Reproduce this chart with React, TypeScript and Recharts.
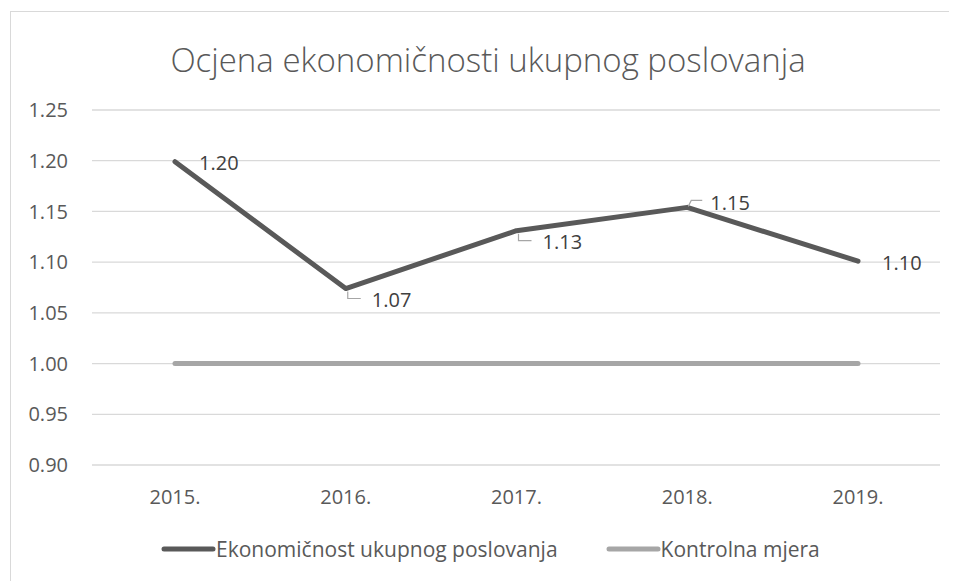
import React from 'react';
import { LineChart, Line, XAxis, YAxis, CartesianGrid, LabelList } from 'recharts';

const categories = ['2015.', '2016.', '2017.', '2018.', '2019.'];
const ekonomicnost = [1.199, 1.074, 1.131, 1.154, 1.101];
const kontrolna = [1.0, 1.0, 1.0, 1.0, 1.0];
const yTicks = [0.9, 0.95, 1.0, 1.05, 1.1, 1.15, 1.2, 1.25];

const title = 'Ocjena ekonomičnosti ukupnog poslovanja';
const seriesNames = ['Ekonomičnost ukupnog poslovanja', 'Kontrolna mjera'];
const seriesColors = ['#595959', '#a6a6a6'];

const data = categories.map((c, i) => ({
  year: c,
  eko: ekonomicnost[i],
  kon: kontrolna[i],
}));

const FONT = '"Open Sans", "Noto Sans", sans-serif';
const W = 949;
const H = 573;

const DataLabel = (props: any) => {
  const { x, y, value, index } = props;
  const n = ekonomicnost.length;
  const text = Number(value).toFixed(2);
  let place = 'right';
  if (index > 0 && index < n - 1) {
    const prev = ekonomicnost[index - 1];
    const next = ekonomicnost[index + 1];
    place = value > prev && value > next ? 'above' : 'below';
  }
  const style = { fontFamily: FONT, fontSize: 20, fill: '#404040' };
  if (place === 'right') {
    return (
      <text x={x + 24} y={y + 1} dominantBaseline="central" style={style}>
        {text}
      </text>
    );
  }
  if (place === 'below') {
    return (
      <g>
        <polyline
          points={`${x + 2},${y + 3} ${x + 2},${y + 10} ${x + 15},${y + 10}`}
          fill="none"
          stroke="#a6a6a6"
          strokeWidth={1.2}
        />
        <text x={x + 26} y={y + 11} dominantBaseline="central" style={style}>
          {text}
        </text>
      </g>
    );
  }
  return (
    <g>
      <polyline
        points={`${x + 1},${y - 1} ${x + 4},${y - 7} ${x + 15},${y - 7}`}
        fill="none"
        stroke="#a6a6a6"
        strokeWidth={1.2}
      />
      <text x={x + 23} y={y - 5} dominantBaseline="central" style={style}>
        {text}
      </text>
    </g>
  );
};

export default function App() {
  return (
    <div style={{ position: 'relative', width: W, height: H, overflow: 'hidden', background: '#fff' }}>
      <div
        style={{
          position: 'absolute',
          left: 2,
          top: 3,
          width: W + 20,
          height: H + 20,
          border: '1px solid #d9d9d9',
          boxSizing: 'border-box',
        }}
      />
      <div
        style={{
          position: 'absolute',
          left: 0,
          top: 29,
          width: 960,
          textAlign: 'center',
          fontFamily: FONT,
          fontWeight: 300,
          fontSize: 33,
          color: '#595959',
          whiteSpace: 'nowrap',
        }}
      >
        {title}
      </div>
      <LineChart
        width={W}
        height={H}
        data={data}
        margin={{ top: 102, right: 17, bottom: 76, left: 0 }}
        style={{ position: 'absolute', left: 0, top: 0 }}
      >
        <CartesianGrid vertical={false} stroke="#d9d9d9" strokeWidth={1.3} />
        <XAxis
          dataKey="year"
          axisLine={false}
          tickLine={false}
          tickSize={0}
          tickMargin={25}
          height={40}
          padding={{ left: 83, right: 82 }}
          tick={{ fontFamily: FONT, fontSize: 20, fill: '#595959' }}
        />
        <YAxis
          domain={[0.9, 1.25]}
          ticks={yTicks}
          interval={0}
          axisLine={false}
          tickLine={false}
          tickSize={0}
          tickMargin={24}
          width={84}
          tickFormatter={(v: number) => v.toFixed(2)}
          tick={{ fontFamily: FONT, fontSize: 20, fill: '#595959' }}
        />
        <Line
          dataKey="kon"
          name={seriesNames[1]}
          stroke={seriesColors[1]}
          strokeWidth={5}
          strokeLinecap="round"
          strokeLinejoin="round"
          dot={false}
          activeDot={false}
          isAnimationActive={false}
        />
        <Line
          dataKey="eko"
          name={seriesNames[0]}
          stroke={seriesColors[0]}
          strokeWidth={5}
          strokeLinecap="round"
          strokeLinejoin="round"
          dot={false}
          activeDot={false}
          isAnimationActive={false}
        >
          <LabelList dataKey="eko" content={DataLabel} />
        </Line>
      </LineChart>
      <div
        style={{
          position: 'absolute',
          left: 153,
          top: 527,
          display: 'flex',
          alignItems: 'center',
          fontFamily: FONT,
          fontSize: 21,
          color: '#595959',
          whiteSpace: 'nowrap',
        }}
      >
        {seriesNames.map((name, i) => (
          <div key={name} style={{ display: 'flex', alignItems: 'center', marginRight: i === 0 ? 48 : 0 }}>
            <svg width={55} height={10} style={{ display: 'block' }}>
              <line x1={3} y1={5} x2={52} y2={5} stroke={seriesColors[i]} strokeWidth={5} strokeLinecap="round" />
            </svg>
            <span>{name}</span>
          </div>
        ))}
      </div>
    </div>
  );
}
